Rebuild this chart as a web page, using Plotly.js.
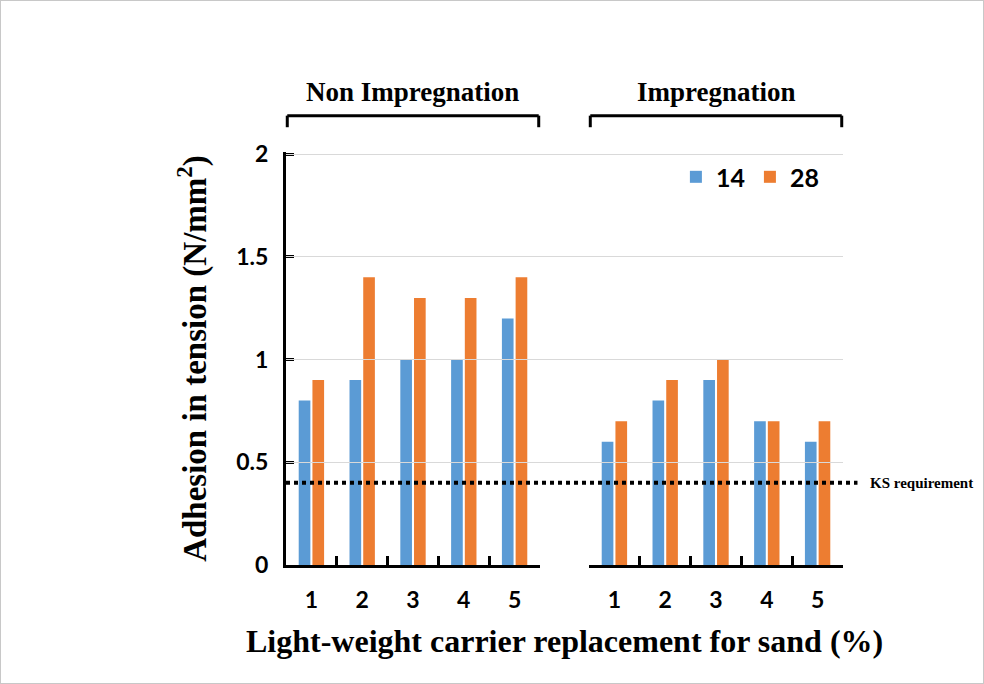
<!DOCTYPE html>
<html>
<head>
<meta charset="utf-8">
<script src="https://cdn.plot.ly/plotly-3.0.1.min.js"></script>
<style>
body { margin: 0; background: #fff; }
#graph { width: 982px; height: 682px; border: 1px solid #c8c8c8; }
</style>
</head>
<body>
<div id="graph"></div>
<script>
var categories = ['1', '2', '3', '4', '5']; /*replacement level labels*/
var ages = ['14', '28']; /*curing age, series names*/
var non14 = [0.8, 0.9, 1.0, 1.0, 1.2]; /*non impregnation, 14 days*/
var non28 = [0.9, 1.4, 1.3, 1.3, 1.4]; /*non impregnation, 28 days*/
var imp14 = [0.6, 0.8, 0.9, 0.7, 0.6]; /*impregnation, 14 days*/
var imp28 = [0.7, 0.9, 1.0, 0.7, 0.7]; /*impregnation, 28 days*/
var groups = ['Non Impregnation', 'Impregnation'];
var yTicks = [0, 0.5, 1, 1.5, 2];
var ksRequirement = 0.4; /*KS standard minimum*/

var blue = '#5B9BD5';
var orange = '#ED7D31';
var tickFont = {family: 'Lato, sans-serif', size: 23, color: '#000', weight: 'bold'};
var serifBold = 'Liberation Serif, Times New Roman, serif';

function drawGraph() {
    var trace1 = {x: categories, y: non14, type: 'bar', name: ages[0], xaxis: 'x', yaxis: 'y',
        marker: {color: blue}, legendgroup: 'a'};
    var trace2 = {x: categories, y: non28, type: 'bar', name: ages[1], xaxis: 'x', yaxis: 'y',
        marker: {color: orange}, legendgroup: 'b'};
    var trace3 = {x: categories, y: imp14, type: 'bar', name: ages[0], xaxis: 'x2', yaxis: 'y',
        marker: {color: blue}, legendgroup: 'a', showlegend: false};
    var trace4 = {x: categories, y: imp28, type: 'bar', name: ages[1], xaxis: 'x2', yaxis: 'y',
        marker: {color: orange}, legendgroup: 'b', showlegend: false};
    /*empty trace so a full width subplot carries the y grid across the gap*/
    var gridHolder = {x: [], y: [], type: 'scatter', xaxis: 'x3', yaxis: 'y', showlegend: false, hoverinfo: 'skip'};
    var data = [trace1, trace2, trace3, trace4, gridHolder];

    var catAxis = function (dom) {
        return {
            domain: dom,
            anchor: 'y',
            type: 'category',
            showline: true,
            linecolor: '#000',
            linewidth: 3,
            ticks: 'inside',
            tickson: 'boundaries',
            ticklen: 9,
            tickwidth: 3,
            tickcolor: '#000',
            ticklabelstandoff: 12,
            tickfont: tickFont,
            showgrid: false,
            zeroline: false,
            fixedrange: true,
            layer: 'above traces'
        };
    };

    var shapes = [];
    var annotations = [];
    ['x', 'x2'].forEach(function (ax, k) {
        var ref = ax + ' domain';
        /*bracket over each group*/
        shapes.push({type: 'line', xref: ref, yref: 'paper', x0: 0.005, x1: 0.995, y0: 1.088, y1: 1.088,
            line: {color: '#000', width: 3}});
        shapes.push({type: 'line', xref: ref, yref: 'paper', x0: 0.005, x1: 0.005, y0: 1.088, y1: 1.06,
            line: {color: '#000', width: 3}});
        shapes.push({type: 'line', xref: ref, yref: 'paper', x0: 0.995, x1: 0.995, y0: 1.088, y1: 1.06,
            line: {color: '#000', width: 3}});
        annotations.push({text: groups[k], xref: ref, yref: 'paper', x: 0.5, y: 1.145, yanchor: 'middle',
            showarrow: false, font: {family: serifBold, size: 27, color: '#000', weight: 'bold'}});
    });
    /*KS requirement dotted line*/
    shapes.push({type: 'line', xref: 'paper', yref: 'y', x0: 0, x1: 1.026, y0: ksRequirement, y1: ksRequirement,
        line: {color: '#000', width: 4, dash: 'dot'}});
    annotations.push({text: 'KS requirement', xref: 'paper', yref: 'y', x: 1.045, y: ksRequirement,
        xanchor: 'left', showarrow: false, font: {family: serifBold, size: 15, color: '#000', weight: 'bold'}});

    var layout = {
        width: 982,
        height: 682,
        margin: {l: 285, r: 140, t: 151, b: 118, pad: 0},
        paper_bgcolor: '#fff',
        plot_bgcolor: 'rgba(0,0,0,0)',
        showlegend: true,
        barmode: 'group',
        bargap: 0.46,
        bargroupgap: 0.15,
        xaxis: catAxis([0, 0.456]),
        xaxis2: catAxis([0.544, 1]),
        xaxis3: {domain: [0, 1], anchor: 'y', visible: false, range: [0, 1], fixedrange: true},
        yaxis: {
            domain: [0, 1],
            anchor: 'x',
            range: [0, 2.01], /*a hair above 2 so the top tick is not clipped*/
            tickvals: yTicks,
            showline: true,
            linecolor: '#000',
            linewidth: 3,
            ticks: 'inside',
            ticklen: 8,
            tickwidth: 3,
            tickcolor: '#000',
            ticklabelstandoff: 10,
            tickfont: tickFont,
            showgrid: true,
            gridcolor: '#d9d9d9',
            gridwidth: 1,
            zeroline: false,
            fixedrange: true,
            layer: 'above traces',
            title: {
                text: 'Adhesion in tension (N/mm<sup>2</sup>)',
                font: {family: serifBold, size: 33, color: '#000', weight: 'bold'},
                standoff: 20
            }
        },
        legend: {
            orientation: 'h',
            x: 0.7,
            y: 0.995,
            xanchor: 'left',
            yanchor: 'top',
            itemwidth: 30,
            font: {family: 'Lato, sans-serif', size: 25, color: '#000', weight: 'bold'},
            bgcolor: 'rgba(0,0,0,0)',
            traceorder: 'normal'
        },
        annotations: annotations.concat([{
            text: 'Light-weight carrier replacement for sand (%)',
            xref: 'paper', yref: 'paper', x: 0.5, y: -0.185, yanchor: 'middle', showarrow: false,
            font: {family: serifBold, size: 32, color: '#000', weight: 'bold'}
        }]),
        shapes: shapes
    };

    Plotly.newPlot('graph', data, layout, {displayModeBar: false, staticPlot: true});
}
drawGraph();
</script>
</body>
</html>
